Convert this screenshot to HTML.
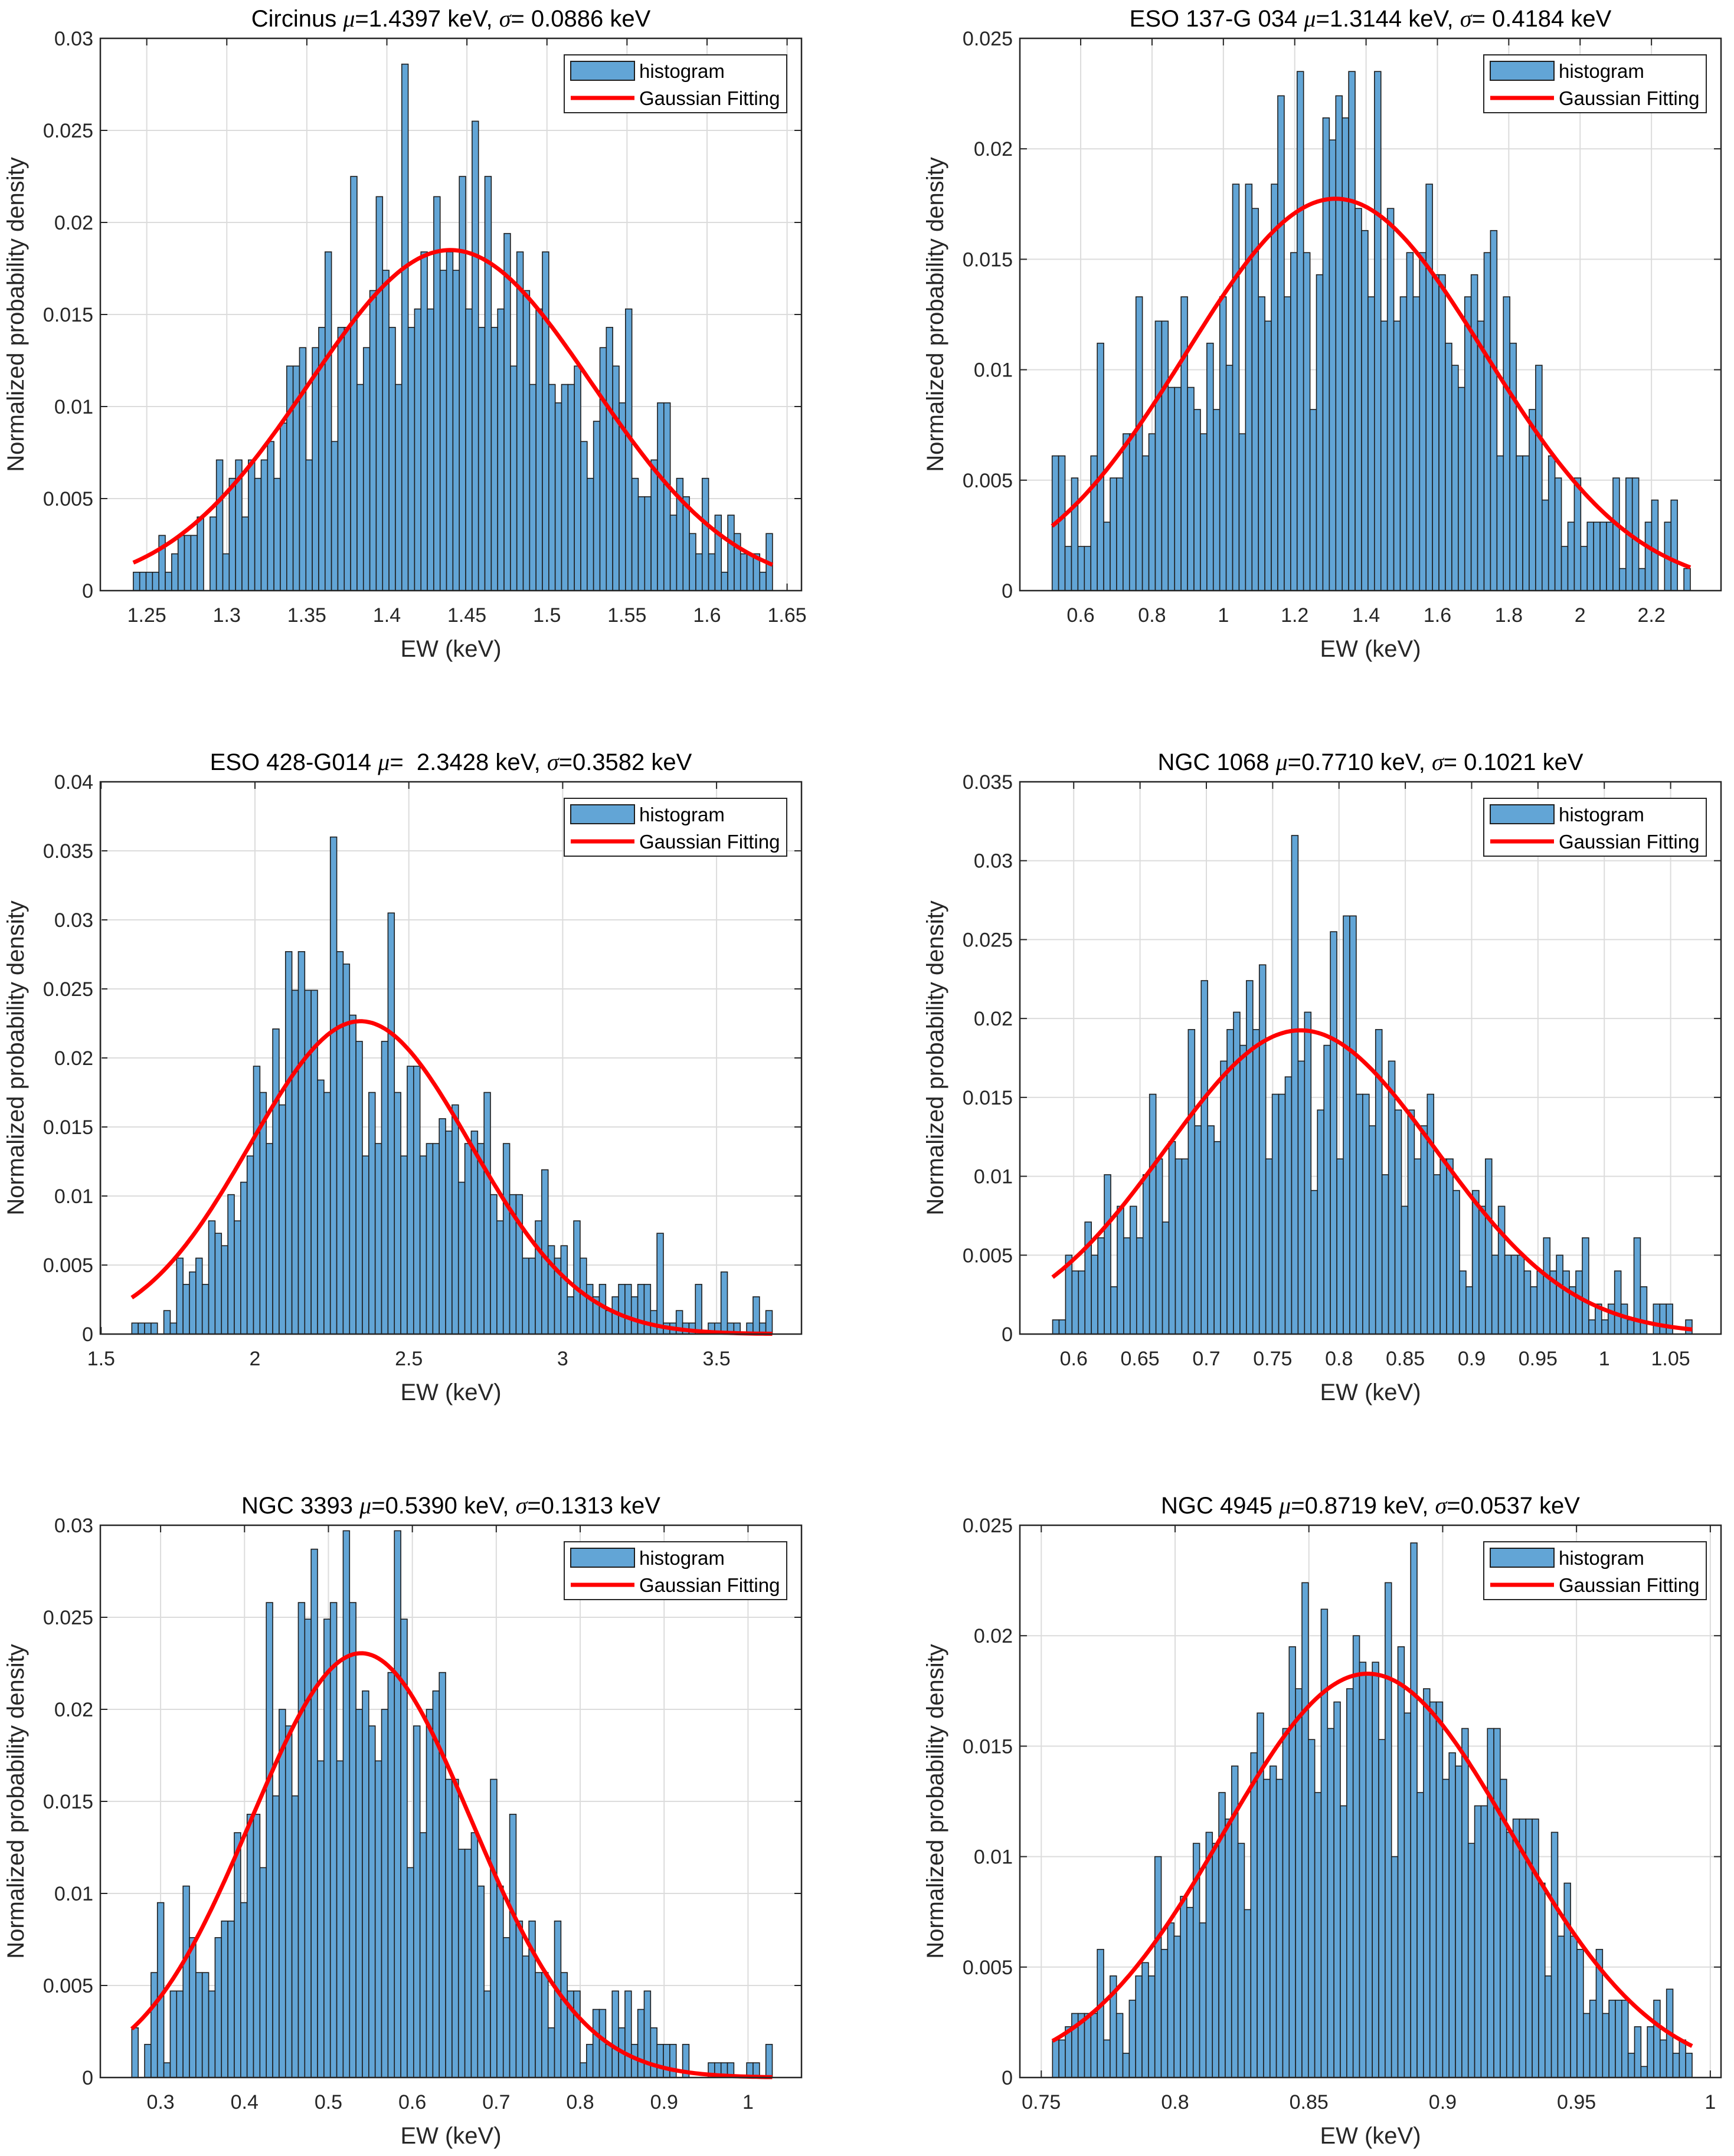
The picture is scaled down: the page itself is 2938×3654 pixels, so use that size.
<!DOCTYPE html>
<html><head><meta charset="utf-8"><style>
html,body{margin:0;padding:0;background:#fff;}
svg{display:block;font-family:"Liberation Sans",Arial,sans-serif;}
</style></head><body>
<svg id="fig" width="2938" height="3654" viewBox="0 0 2938 3654" xmlns="http://www.w3.org/2000/svg"></svg>
<script>
const p1Values=[0.001,0.001,0.001,0.001,0.003,0.001,0.002,0.003,0.003,0.003,0.004,0,0.004,0.0071,0.002,0.0061,0.0071,0.004,0.0071,0.0061,0.0071,0.0081,0.0061,0.0091,0.0122,0.0122,0.0132,0.0071,0.0132,0.0143,0.0184,0.0081,0.0143,0.0143,0.0225,0.0112,0.0132,0.0163,0.0214,0.0174,0.0143,0.0112,0.0286,0.0143,0.0153,0.0184,0.0153,0.0214,0.0174,0.0184,0.0174,0.0225,0.0153,0.0255,0.0143,0.0225,0.0143,0.0153,0.0194,0.0122,0.0184,0.0163,0.0112,0.0153,0.0184,0.0112,0.0102,0.0112,0.0112,0.0122,0.0081,0.0061,0.0092,0.0132,0.0143,0.0122,0.0102,0.0153,0.0061,0.0051,0.0051,0.0071,0.0102,0.0102,0.0041,0.0061,0.0051,0.0031,0.002,0.0061,0.002,0.0041,0.001,0.0041,0.0031,0.002,0.002,0.002,0.001,0.0031];
const p2Values=[0.0061,0.0061,0.002,0.0051,0.002,0.002,0.0061,0.0112,0.0031,0.0051,0.0051,0.0071,0.0071,0.0133,0.0061,0.0071,0.0122,0.0122,0.0092,0.0092,0.0133,0.0092,0.0082,0.0071,0.0112,0.0082,0.0133,0.0102,0.0184,0.0071,0.0184,0.0173,0.0133,0.0122,0.0184,0.0224,0.0133,0.0153,0.0235,0.0153,0.0082,0.0143,0.0214,0.0204,0.0224,0.0214,0.0235,0.0173,0.0163,0.0133,0.0235,0.0122,0.0173,0.0122,0.0133,0.0153,0.0133,0.0153,0.0184,0.0143,0.0143,0.0112,0.0102,0.0092,0.0133,0.0143,0.0122,0.0153,0.0163,0.0061,0.0133,0.0112,0.0061,0.0061,0.0082,0.0102,0.0041,0.0061,0.0051,0.002,0.0031,0.0051,0.002,0.0031,0.0031,0.0031,0.0031,0.0051,0.001,0.0051,0.0051,0.001,0.0031,0.0041,0,0.0031,0.0041,0,0.001];
const p3Values=[0.0008,0.0008,0.0008,0.0008,0,0.0017,0.0008,0.0055,0.0036,0.0045,0.0055,0.0036,0.0082,0.0073,0.0064,0.0101,0.0082,0.011,0.0129,0.0194,0.0175,0.0138,0.0221,0.0166,0.0277,0.0249,0.0277,0.0249,0.0249,0.0184,0.0175,0.036,0.0277,0.0268,0.0231,0.0212,0.0129,0.0175,0.0138,0.0212,0.0305,0.0175,0.0129,0.0194,0.0194,0.0129,0.0138,0.0138,0.0156,0.0147,0.0166,0.011,0.0138,0.0147,0.0138,0.0175,0.0101,0.0082,0.0138,0.0101,0.0101,0.0055,0.0055,0.0082,0.0119,0.0064,0.0055,0.0064,0.0027,0.0082,0.0055,0.0036,0.0027,0.0036,0.0017,0.0027,0.0036,0.0036,0.0027,0.0036,0.0036,0.0017,0.0073,0.0008,0.0008,0.0017,0.0008,0.0008,0.0036,0,0.0008,0.0008,0.0045,0.0008,0.0008,0,0.0008,0.0027,0.0008,0.0017];
const p4Values=[0.0009,0.0009,0.005,0.004,0.004,0.0071,0.005,0.0061,0.0101,0.003,0.0081,0.0061,0.0081,0.0061,0.0101,0.0152,0.0111,0.0071,0.0122,0.0111,0.0111,0.0193,0.0132,0.0224,0.0132,0.0122,0.0173,0.0193,0.0204,0.0183,0.0224,0.0193,0.0234,0.0111,0.0152,0.0152,0.0163,0.0316,0.0173,0.0204,0.0091,0.0142,0.0183,0.0255,0.0111,0.0265,0.0265,0.0152,0.0152,0.0132,0.0193,0.0101,0.0173,0.0142,0.0081,0.0142,0.0111,0.0132,0.0152,0.0101,0.0111,0.0111,0.0091,0.004,0.003,0.0091,0.0081,0.0111,0.005,0.0081,0.005,0.005,0.005,0.004,0.003,0.004,0.0061,0.004,0.005,0.004,0.003,0.004,0.0061,0.0009,0.0019,0.0009,0.0019,0.004,0.0019,0.0009,0.0061,0.003,0,0.0019,0.0019,0.0019,0,0,0.0009];
const p5Values=[0.0027,0,0.0018,0.0057,0.0095,0.0008,0.0047,0.0047,0.0104,0.0076,0.0057,0.0057,0.0047,0.0076,0.0085,0.0085,0.0133,0.0095,0.0143,0.0143,0.0114,0.0258,0.0153,0.02,0.0191,0.0153,0.0258,0.0249,0.0287,0.0172,0.0249,0.0258,0.0172,0.0297,0.0258,0.02,0.021,0.0191,0.0172,0.02,0.022,0.0297,0.0249,0.0114,0.0191,0.0133,0.02,0.021,0.022,0.0162,0.0162,0.0124,0.0124,0.0133,0.0104,0.0047,0.0162,0.0104,0.0076,0.0143,0.0085,0.0066,0.0085,0.0057,0.0057,0.0027,0.0085,0.0057,0.0047,0.0047,0.0008,0.0018,0.0037,0.0037,0.0018,0.0047,0.0027,0.0047,0.0018,0.0037,0.0047,0.0027,0.0018,0.0018,0.0018,0,0.0018,0,0,0,0.0008,0.0008,0.0008,0.0008,0,0,0.0008,0.0008,0,0.0018];
const p6Values=[0.0017,0.0017,0.0023,0.0029,0.0029,0.0029,0.0029,0.0058,0.0017,0.0046,0.0029,0.0011,0.0035,0.0046,0.0052,0.0046,0.01,0.0058,0.007,0.0064,0.0082,0.0077,0.0106,0.007,0.0111,0.0106,0.0129,0.0117,0.0141,0.0106,0.0076,0.0147,0.0165,0.0135,0.0141,0.0135,0.0158,0.0195,0.0176,0.0224,0.0153,0.0129,0.0212,0.0158,0.017,0.0123,0.0176,0.02,0.0188,0.0183,0.0188,0.0153,0.0224,0.01,0.0195,0.0165,0.0242,0.0129,0.0176,0.017,0.017,0.0135,0.0147,0.0141,0.0158,0.0106,0.0123,0.0123,0.0158,0.0158,0.0135,0.0111,0.0117,0.0117,0.0117,0.0117,0.0088,0.0046,0.0111,0.0064,0.0088,0.0064,0.0058,0.0029,0.0035,0.0058,0.0029,0.0035,0.0035,0.0035,0.0011,0.0023,0.0005,0.0023,0.0035,0.0017,0.004,0.0011,0.0017,0.0011];
const binRanges=[[1.2416,1.6409],[0.52,2.309],[1.5998,3.681],[0.5841,1.0662],[0.2657,1.0289],[0.7542,0.9932]];
const xLimits=[[1.221,1.659],[0.4295,2.395],[1.4975,3.776],[0.5594,1.088],[0.2282,1.0637],[0.742,1.004]];
const yMax=[0.03,0.025,0.04,0.035,0.03,0.025];
const yStep=[0.005,0.005,0.005,0.005,0.005,0.005];
const xTickLabels=[["1.25","1.3","1.35","1.4","1.45","1.5","1.55","1.6","1.65"],["0.6","0.8","1","1.2","1.4","1.6","1.8","2","2.2"],["1.5","2","2.5","3","3.5"],["0.6","0.65","0.7","0.75","0.8","0.85","0.9","0.95","1","1.05"],["0.3","0.4","0.5","0.6","0.7","0.8","0.9","1"],["0.75","0.8","0.85","0.9","0.95","1"]];
const yTickLabels=[["0","0.005","0.01","0.015","0.02","0.025","0.03"],["0","0.005","0.01","0.015","0.02","0.025"],["0","0.005","0.01","0.015","0.02","0.025","0.03","0.035","0.04"],["0","0.005","0.01","0.015","0.02","0.025","0.03","0.035"],["0","0.005","0.01","0.015","0.02","0.025","0.03"],["0","0.005","0.01","0.015","0.02","0.025"]];
const names=["Circinus","ESO 137-G 034","ESO 428-G014","NGC 1068","NGC 3393","NGC 4945"];
const muText=["1.4397","1.3144","  2.3428","0.7710","0.5390","0.8719"];
const sigText=[" 0.0886"," 0.4184","0.3582"," 0.1021","0.1313","0.0537"];
const gaussMu=[1.4397,1.3144,2.3428,0.7710,0.5390,0.8719];
const gaussSigma=[0.0886,0.4184,0.3582,0.1021,0.1313,0.0537];
const gaussPeak=[0.0185,0.01774,0.02266,0.01925,0.02305,0.01828];
const allValues=[p1Values,p2Values,p3Values,p4Values,p5Values,p6Values];

const NS="http://www.w3.org/2000/svg";
const svg=document.getElementById('fig');
function mk(tag,attrs,parent){const e=document.createElementNS(NS,tag);for(const k in attrs)e.setAttribute(k,attrs[k]);(parent||svg).appendChild(e);return e;}
const colX=[170,1728], rowY=[65,1325,2585], AW=1188, AH=936;

for(let p=0;p<6;p++){
  const L=colX[p%2], T=rowY[Math.floor(p/2)], B=T+AH, R=L+AW;
  const [x0,x1]=xLimits[p];
  const sx=v=>L+(v-x0)/(x1-x0)*AW;
  const sy=v=>B-v/yMax[p]*AH;
  const g=mk('g',{});
  
  
  mk('rect',{x:L,y:T,width:AW,height:AH,fill:'#fff'},g);
  yTickLabels[p].forEach((lab,i)=>{
    const v=i*yStep[p], y=sy(v);
    if(i>0&&i<yTickLabels[p].length-1){const gl=mk('line',{x1:L,x2:R,y1:y,y2:y,stroke:'#dcdcdc','stroke-width':2},g);}
    mk('line',{x1:L,x2:L+12,y1:y,y2:y,stroke:'#262626','stroke-width':2},g);
    mk('line',{x1:R,x2:R-12,y1:y,y2:y,stroke:'#262626','stroke-width':2},g);
    const t=mk('text',{x:L-12,y:y+12,'text-anchor':'end','font-size':34,fill:'#262626'},g);
    
    t.textContent=lab;
  });
  xTickLabels[p].forEach(lab=>{
    const v=parseFloat(lab), x=sx(v);
    const gl=mk('line',{x1:x,x2:x,y1:T,y2:B,stroke:'#dcdcdc','stroke-width':2},g);
    
    mk('line',{x1:x,x2:x,y1:B,y2:B-12,stroke:'#262626','stroke-width':2},g);
    mk('line',{x1:x,x2:x,y1:T,y2:T+12,stroke:'#262626','stroke-width':2},g);
    const t=mk('text',{x:x,y:B+53,'text-anchor':'middle','font-size':34,fill:'#262626'},g);
    
    t.textContent=lab;
  });
  const vals=allValues[p], [b0,b1]=binRanges[p], w=(b1-b0)/vals.length;
  vals.forEach((v,i)=>{
    const xa=sx(b0+i*w), xb=sx(b0+(i+1)*w), ya=sy(v);
    const r=mk('rect',{x:xa,y:ya,width:xb-xa,height:B-ya,fill:'#62a5d6',stroke:'#1e1e1e','stroke-width':1.6},g);
    
  });
  let d='';
  for(let k=0;k<=200;k++){const x=b0+(b1-b0)*k/200;const y=gaussPeak[p]*Math.exp(-0.5*Math.pow((x-gaussMu[p])/gaussSigma[p],2));d+=(k?'L':'M')+sx(x).toFixed(1)+','+sy(y).toFixed(1);}
  const c=mk('path',{d:d,fill:'none',stroke:'#ff0000','stroke-width':7,'stroke-linejoin':'round'},g);
  
  const bx=mk('rect',{x:L,y:T,width:AW,height:AH,fill:'none',stroke:'#262626','stroke-width':2.5},g);
  
  const tt=mk('text',{x:L+AW/2,y:T-20,'text-anchor':'middle','font-size':40,fill:'#000'},g);
  
  tt.innerHTML=names[p]+' <tspan font-family="Liberation Serif,serif" font-style="italic">μ</tspan>='+muText[p].replace(/ /g,'&#160;')+' keV, <tspan font-family="Liberation Serif,serif" font-style="italic">σ</tspan>='+sigText[p].replace(/ /g,'&#160;')+' keV';
  const xl=mk('text',{x:L+AW/2,y:B+112,'text-anchor':'middle','font-size':40,fill:'#262626'},g);
  
  xl.textContent='EW (keV)';
  const yx=L-130, yy=T+AH/2;
  const yl=mk('text',{x:yx,y:yy,'text-anchor':'middle','font-size':40,fill:'#262626',transform:`rotate(-90 ${yx} ${yy})`},g);
  
  yl.textContent='Normalized probability density';
  const lx=L+786, ly=T+28;
  const lg=mk('g',{},g);
  
  mk('rect',{x:lx,y:ly,width:377,height:98,fill:'#fff',stroke:'#262626','stroke-width':2},lg);
  const lp=mk('rect',{x:lx+11,y:ly+11,width:108,height:32,fill:'#62a5d6',stroke:'#1e1e1e','stroke-width':2},lg);
  
  const ll=mk('line',{x1:lx+11,x2:lx+119,y1:ly+73,y2:ly+73,stroke:'#ff0000','stroke-width':7},lg);
  
  const t1=mk('text',{x:lx+127,y:ly+39,'font-size':33,fill:'#000'},lg);t1.textContent='histogram';
  const t2=mk('text',{x:lx+127,y:ly+85,'font-size':33,fill:'#000'},lg);t2.textContent='Gaussian Fitting';
}
</script>
</body></html>
